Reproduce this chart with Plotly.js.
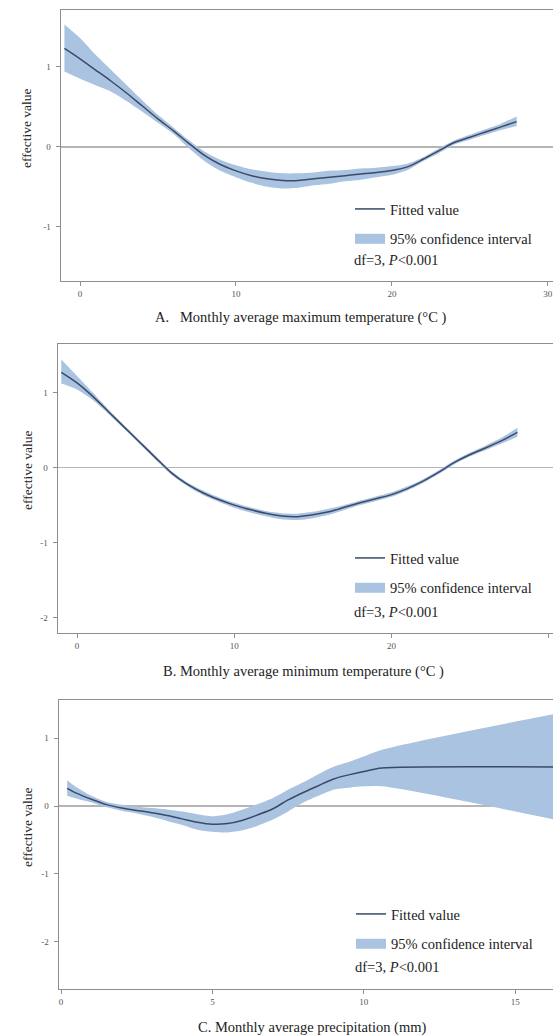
<!DOCTYPE html>
<html><head><meta charset="utf-8">
<script src="https://cdn.plot.ly/plotly-3.0.1.min.js"></script>
<style>html,body{margin:0;padding:0;background:#fff}</style>
</head><body><div id="chart" style="width:553px;height:1036px"></div>
<script>
// ---------- data ----------
const xA = [-1,0,1,2,3,4,5,6,7,8,9,10,11,12,13,14,15,16,17,18,19,20,21,22,23,24,25,26,27,28];
const fitA = [1.23,1.10,0.96,0.82,0.67,0.51,0.35,0.20,0.04,-0.11,-0.22,-0.30,-0.36,-0.40,-0.42,-0.42,-0.40,-0.38,-0.36,-0.34,-0.32,-0.295,-0.25,-0.155,-0.05,0.055,0.12,0.185,0.25,0.315];
const upA = [1.53,1.36,1.15,0.96,0.77,0.58,0.40,0.24,0.08,-0.06,-0.16,-0.23,-0.28,-0.31,-0.33,-0.33,-0.32,-0.30,-0.29,-0.27,-0.26,-0.24,-0.21,-0.13,-0.02,0.08,0.15,0.22,0.29,0.38];
const loA = [0.94,0.85,0.77,0.69,0.57,0.44,0.30,0.16,-0.02,-0.18,-0.30,-0.38,-0.45,-0.50,-0.52,-0.51,-0.48,-0.46,-0.43,-0.41,-0.38,-0.35,-0.29,-0.18,-0.08,0.03,0.09,0.15,0.21,0.26];

const xB = [-1,0,1,2,3,4,5,6,7,8,9,10,11,12,13,14,15,16,17,18,19,20,21,22,23,24,25,26,27,28];
const fitB = [1.27,1.13,0.95,0.745,0.54,0.335,0.13,-0.07,-0.22,-0.335,-0.425,-0.50,-0.56,-0.61,-0.645,-0.655,-0.63,-0.59,-0.53,-0.47,-0.415,-0.36,-0.28,-0.18,-0.06,0.07,0.175,0.265,0.36,0.47];
const upB = [1.44,1.22,1.00,0.775,0.565,0.36,0.155,-0.045,-0.195,-0.305,-0.395,-0.47,-0.53,-0.58,-0.61,-0.615,-0.59,-0.55,-0.50,-0.44,-0.385,-0.33,-0.25,-0.155,-0.035,0.095,0.20,0.295,0.40,0.53];
const loB = [1.12,1.04,0.90,0.715,0.515,0.31,0.105,-0.095,-0.245,-0.365,-0.455,-0.535,-0.60,-0.65,-0.69,-0.70,-0.675,-0.63,-0.565,-0.50,-0.445,-0.39,-0.305,-0.205,-0.085,0.045,0.15,0.235,0.32,0.41];

const xC = [0.2,0.5,1,1.5,2,2.5,3,3.5,4,4.5,5,5.5,6,6.5,7,7.5,8,8.5,9,9.5,10,10.6,16.3];
const fitC = [0.26,0.19,0.10,0.02,-0.03,-0.065,-0.10,-0.14,-0.19,-0.24,-0.27,-0.26,-0.21,-0.13,-0.04,0.09,0.20,0.30,0.40,0.46,0.51,0.56,0.575];
const upC = [0.38,0.28,0.15,0.06,0.02,-0.01,-0.03,-0.05,-0.08,-0.12,-0.15,-0.12,-0.05,0.03,0.12,0.24,0.35,0.47,0.58,0.65,0.73,0.83,1.36];
const loC = [0.15,0.11,0.05,-0.02,-0.07,-0.11,-0.16,-0.22,-0.28,-0.35,-0.38,-0.39,-0.36,-0.29,-0.20,-0.08,0.05,0.15,0.24,0.27,0.29,0.29,-0.20];

const xTicksAB = [0,10,20,30];
const xTicksC = [0,5,10,15];
const yTicksA = [-1,0,1];
const yTicksBC = [-2,-1,0,1];
const tickText = v => v.map(n => n < 0 ? '-' + Math.abs(n) : String(n));

const legendLine = 'Fitted value';
const legendBand = '95% confidence interval';
const statText = 'df=3, <i>P</i>&lt;0.001';
const yTitle = 'effective value';
const xTitles = ['A.   Monthly average maximum temperature (°C )',
                 'B. Monthly average minimum temperature (°C )',
                 'C. Monthly average precipitation (mm)'];

// ---------- styling ----------
const W = 553, H = 1036;
const serif = 'Liberation Serif, Times New Roman, serif';
const lineCol = '#3b4a68', bandCol = '#a9c3e1', frameCol = '#8e8e8e';
const px = v => v / W, py = v => 1 - v / H;

function panel(n, x, fit, up, lo) {
  const xa = n === 1 ? 'x' : 'x' + n, ya = n === 1 ? 'y' : 'y' + n;
  const lg = n === 1 ? 'legend' : 'legend' + n;
  return [
    {x: x, y: lo, xaxis: xa, yaxis: ya, mode: 'lines', line: {width: 0, color: bandCol, shape: 'spline', smoothing: 0.8}, showlegend: false, hoverinfo: 'skip'},
    {x: x, y: up, xaxis: xa, yaxis: ya, mode: 'lines', line: {width: 0, color: bandCol, shape: 'spline', smoothing: 0.8}, fill: 'tonexty', fillcolor: bandCol, showlegend: false, hoverinfo: 'skip'},
    {x: x, y: fit, xaxis: xa, yaxis: ya, mode: 'lines', line: {width: 1.5, color: lineCol, shape: 'spline', smoothing: 0.8}, name: legendLine, legend: lg, legendgroup: 'f' + n},
    {x: [null], y: [null], xaxis: xa, yaxis: ya, mode: 'lines', line: {width: 10, color: bandCol}, name: legendBand, legend: lg, legendgroup: 'b' + n}
  ];
}
const data = [].concat(panel(1, xA, fitA, upA, loA), panel(2, xB, fitB, upB, loB), panel(3, xC, fitC, upC, loC));

function xax(domL, range, ticks, anchor) {
  return {domain: [px(domL), 1], range: range, anchor: anchor, tickmode: 'array', tickvals: ticks, ticktext: tickText(ticks),
    showline: true, linecolor: frameCol, linewidth: 1.5, mirror: true, ticks: 'outside', ticklen: 4, tickwidth: 1, tickcolor: frameCol,
    showgrid: false, zeroline: false, tickfont: {family: serif, size: 9, color: '#555'}, fixedrange: true};
}
function yax(top, bot, range, ticks, anchor) {
  return {domain: [py(bot), py(top)], range: range, anchor: anchor, tickmode: 'array', tickvals: ticks, ticktext: tickText(ticks),
    showline: true, linecolor: frameCol, linewidth: 1.5, mirror: false, ticks: 'outside', ticklen: 4, tickwidth: 1, tickcolor: frameCol,
    showgrid: false, zeroline: true, zerolinecolor: '#b5b5b5', zerolinewidth: 1.5, ticklabelstandoff: 3,
    tickfont: {family: serif, size: 9, color: '#555'}, fixedrange: true};
}
function leg(xp, yp) {
  return {x: px(xp), y: py(yp), xanchor: 'left', yanchor: 'top', bgcolor: 'rgba(0,0,0,0)', borderwidth: 0,
    font: {family: serif, size: 14.5, color: '#222'}, traceorder: 'grouped', tracegroupgap: 8, itemwidth: 30};
}
function ann(text, xp, yp, opts) {
  return Object.assign({text: text, x: px(xp), y: py(yp), xref: 'paper', yref: 'paper', showarrow: false,
    xanchor: 'center', yanchor: 'middle', font: {family: serif, size: 14.5, color: '#222'}}, opts || {});
}
const yt = {textangle: -90, font: {family: serif, size: 13.5, color: '#222'}};

const layout = {
  width: W, height: H, margin: {l: 0, r: 0, t: 0, b: 0}, paper_bgcolor: '#fff', plot_bgcolor: '#fff',
  xaxis: xax(61, [-1.22, 30.33], xTicksAB, 'y'),
  yaxis: yax(10, 280.5, [-1.67, 1.71], yTicksA, 'x'),
  xaxis2: xax(58, [-1.21, 30.26], xTicksAB, 'y2'),
  yaxis2: yax(344, 632.5, [-2.199, 1.648], yTicksBC, 'x2'),
  xaxis3: xax(59, [-0.07, 16.25], xTicksC, 'y3'),
  yaxis3: yax(700, 988.5, [-2.696, 1.566], yTicksBC, 'x3'),
  legend: leg(350, 193),
  legend2: leg(350, 542),
  legend3: leg(351, 898),
  showlegend: true,
  annotations: [
    ann(xTitles[0], 300, 318), ann(xTitles[1], 303, 671), ann(xTitles[2], 312, 1027),
    ann(yTitle, 27, 128, yt), ann(yTitle, 27, 470, yt), ann(yTitle, 27, 827, yt),
    ann(statText, 352, 260, {xanchor: 'left'}), ann(statText, 352, 612, {xanchor: 'left'}), ann(statText, 353, 967, {xanchor: 'left'})
  ]
};
Plotly.newPlot('chart', data, layout, {displayModeBar: false, staticPlot: true});
</script></body></html>
